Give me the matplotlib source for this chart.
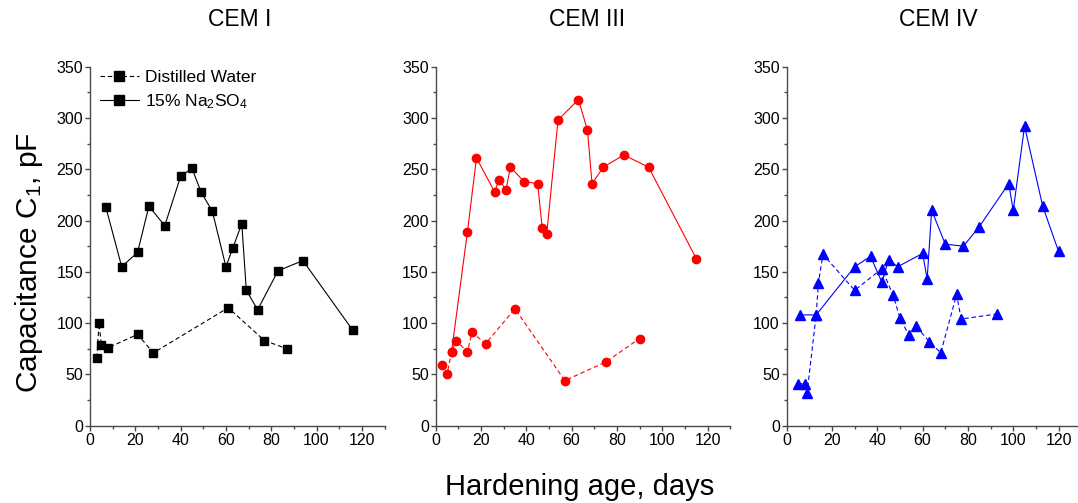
import matplotlib
matplotlib.use("Agg")
import matplotlib.pyplot as plt
from matplotlib.ticker import MultipleLocator

plt.rcParams["font.family"] = ["Liberation Sans", "DejaVu Sans"]
plt.rcParams["mathtext.fontset"] = "custom"
plt.rcParams["mathtext.rm"] = "Liberation Sans"
plt.rcParams["mathtext.it"] = "Liberation Sans:italic"
plt.rcParams["mathtext.bf"] = "Liberation Sans:bold"

# ---- data: hardening age (days) and capacitance C1 (pF) ----
panel_titles = ["CEM I", "CEM III", "CEM IV"]

cem1_water_days = [3, 4, 5, 8, 21, 28, 61, 77, 87]
cem1_water_c1 = [66, 100, 79, 76, 89, 71, 115, 83, 75]
cem1_sulf_days = [7, 14, 21, 26, 33, 40, 45, 49, 54, 60, 63, 67, 69, 74, 83, 94, 116]
cem1_sulf_c1 = [213, 155, 169, 214, 195, 243, 251, 228, 209, 155, 173, 197, 132, 113, 151, 161, 93]

cem3_water_days = [3, 5, 7, 9, 14, 16, 22, 35, 57, 75, 90]
cem3_water_c1 = [59, 50, 72, 83, 72, 91, 80, 114, 44, 62, 85]
cem3_sulf_days = [7, 14, 18, 26, 28, 31, 33, 39, 45, 47, 49, 54, 63, 67, 69, 74, 83, 94, 115]
cem3_sulf_c1 = [72, 189, 261, 228, 240, 230, 252, 238, 236, 193, 187, 298, 318, 288, 236, 252, 264, 252, 163]

cem4_water_days = [5, 8, 9, 13, 14, 16, 30, 42, 47, 50, 54, 57, 63, 68, 75, 77, 93]
cem4_water_c1 = [41, 41, 32, 108, 139, 167, 132, 153, 127, 105, 88, 97, 82, 71, 128, 104, 109]
cem4_sulf_days = [6, 13, 30, 37, 42, 45, 49, 60, 62, 64, 70, 78, 85, 98, 100, 105, 113, 120]
cem4_sulf_c1 = [108, 108, 155, 165, 140, 162, 155, 168, 143, 210, 177, 175, 194, 236, 210, 292, 214, 170]

legend_labels = ["Distilled Water", "15% Na$_2$SO$_4$"]

W, H = 1078, 503
fig = plt.figure(figsize=(W / 100, H / 100), dpi=100)

left_px = [90, 435.7, 786.7]
ax_w_px = 294.5
ax_top_px, ax_bot_px = 66.7, 425.7

panels = [
    (cem1_water_days, cem1_water_c1, cem1_sulf_days, cem1_sulf_c1, "black", "s", 5.8),
    (cem3_water_days, cem3_water_c1, cem3_sulf_days, cem3_sulf_c1, "#ff0000", "o", 6.0),
    (cem4_water_days, cem4_water_c1, cem4_sulf_days, cem4_sulf_c1, "#0000ff", "^", 6.6),
]
title_x_px = [240, 587, 938]

spine_col = "#4a4a4a"
axes = []
for i, (wd, wc, sd, sc, col, mk, ms) in enumerate(panels):
    ax = fig.add_axes([left_px[i] / W, 1 - ax_bot_px / H, ax_w_px / W,
                       (ax_bot_px - ax_top_px) / H])
    axes.append(ax)
    lw_ = ax.plot(wd, wc, color=col, lw=0.8, ls=(0, (4, 2.6)), marker=mk,
                  ms=ms, mec=col, mfc=col, clip_on=False)[0]
    ls_ = ax.plot(sd, sc, color=col, lw=0.8, ls="-", marker=mk,
                  ms=ms, mec=col, mfc=col, clip_on=False)[0]
    ax.set_xlim(0, 130)
    ax.set_ylim(0, 350)
    ax.xaxis.set_major_locator(MultipleLocator(20))
    ax.xaxis.set_minor_locator(MultipleLocator(10))
    ax.yaxis.set_major_locator(MultipleLocator(50))
    ax.yaxis.set_minor_locator(MultipleLocator(25))
    ax.set_xticks([0, 20, 40, 60, 80, 100, 120])
    for s in ("top", "right"):
        ax.spines[s].set_visible(False)
    for s in ("left", "bottom"):
        ax.spines[s].set_color(spine_col)
        ax.spines[s].set_linewidth(1.0)
    ax.tick_params(which="major", direction="out", length=3.5, width=1.0,
                   color=spine_col, labelsize=11.5, pad=1.5, labelcolor="black")
    ax.tick_params(which="minor", direction="out", length=2.2, width=1.0,
                   color=spine_col)
    fig.text(title_x_px[i] / W, 1 - 20 / H, panel_titles[i], fontsize=16.5,
             ha="center", va="center")
    if i == 0:
        ax.legend([lw_, ls_], legend_labels, loc="upper left",
                  bbox_to_anchor=(0.035, 0.99), frameon=False, fontsize=12.5,
                  handlelength=2.2, handletextpad=0.35, borderpad=0,
                  borderaxespad=0, labelspacing=0.4, markerscale=1.3)

fig.text(29 / W, 1 - 262 / H, "Capacitance C$_1$, pF", rotation=90,
         fontsize=21.5, ha="center", va="center")
fig.text(580 / W, 1 - 487 / H, "Hardening age, days", fontsize=21,
         ha="center", va="center")

fig.savefig("out.png", dpi=100)
